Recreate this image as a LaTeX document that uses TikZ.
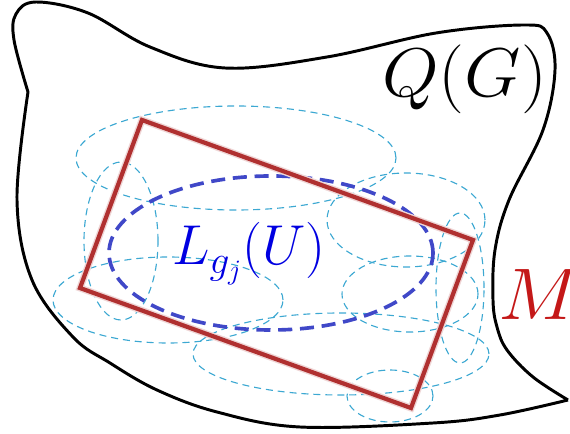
\RequirePackage{fix-cm}
\documentclass[tikz,border=0pt]{standalone}
\usepackage{tkz-euclide}
\definecolor{RectClr}{RGB}{176,48,48}
\definecolor{MClr}{RGB}{196,24,24}
\definecolor{LClr}{RGB}{0,0,225}
\definecolor{UClr}{RGB}{64,72,200}
\definecolor{CoverClr}{RGB}{60,168,210}

\begin{document}
\begin{tikzpicture}[cover/.style={line width=0.8pt,color=CoverClr,dash pattern=on 5pt off 3.5pt}]
\useasboundingbox (0,0) rectangle (14.25,10.85);

% Q(G)
\draw[line width=2.1pt,line join=round]
  plot[smooth,tension=0.6] coordinates {(14.2,0.85) (12.5,0.475) (10.825,0.275) (7.5,0.175) (5.425,0.55) (3.925,1.1) (2.75,1.775) (1.825,2.425) (0.8,3.85) (0.425,5.85) (0.7,8.55)}
  -- plot[smooth,tension=0.6] coordinates {(0.7,8.55) (0.35,9.85) (0.4,10.5) (0.9,10.8) (2.2,10.525) (3.75,9.675) (5.625,9.15) (8.175,9.425) (10.9,10.025) (13.1,10.225) (13.675,10.025) (13.875,9.1) (13.575,7.6) (12.725,5.85) (12.375,4.6) (12.325,3.35) (12.425,2.675) (12.675,2.1) (13.325,1.425) (14.2,0.85)};

% translates covering M
\draw[cover] (5.9,6.9) ellipse [x radius=4,y radius=1.3];
\draw[cover] (3.025,4.825) ellipse [x radius=0.925,y radius=1.975];
\draw[cover] (4.2,3.35) ellipse [x radius=2.875,y radius=1.075];
\draw[cover] (10.15,5.35) ellipse [x radius=1.975,y radius=1.175];
\draw[cover] (10.25,3.5) ellipse [x radius=1.7,y radius=0.95];
\draw[cover] (11.5,3.65) ellipse [x radius=0.6,y radius=1.875];
\draw[cover] (8.525,2) ellipse [x radius=3.7,y radius=1.025];
\draw[cover] (9.75,0.95) ellipse [x radius=1.075,y radius=0.65];

% L_{g_j}(U)
\draw[line width=2.6pt,color=UClr,dash pattern=on 10pt off 5.5pt] (6.775,4.525) ellipse [x radius=4.05,y radius=1.925];

% M
\tkzDefPoints{3.55/7.85/A,11.825/4.85/B,10.275/0.65/C,2/3.65/D}
\tkzDrawPolygon[line width=5pt,color=RectClr!20,line join=miter](A,B,C,D)
\tkzDrawPolygon[line width=3pt,color=RectClr,line join=miter](A,B,C,D)

\node[anchor=base west,inner sep=0pt,font=\fontsize{49}{52}\selectfont] (qg) at (9.55,8.425) {\scalebox{1.06}[1]{$Q(G)$}};
\node[anchor=base west,inner sep=0pt,text=MClr,font=\fontsize{52}{56}\selectfont] (m) at (12.45,2.85) {\scalebox{1.08}[1]{$M$}};
\node[anchor=base west,inner sep=0pt,text=LClr,font=\fontsize{40}{44}\selectfont] (lu) at (4.3,4.225) {$L_{g_j}(U)$};

\end{tikzpicture}
\end{document}
